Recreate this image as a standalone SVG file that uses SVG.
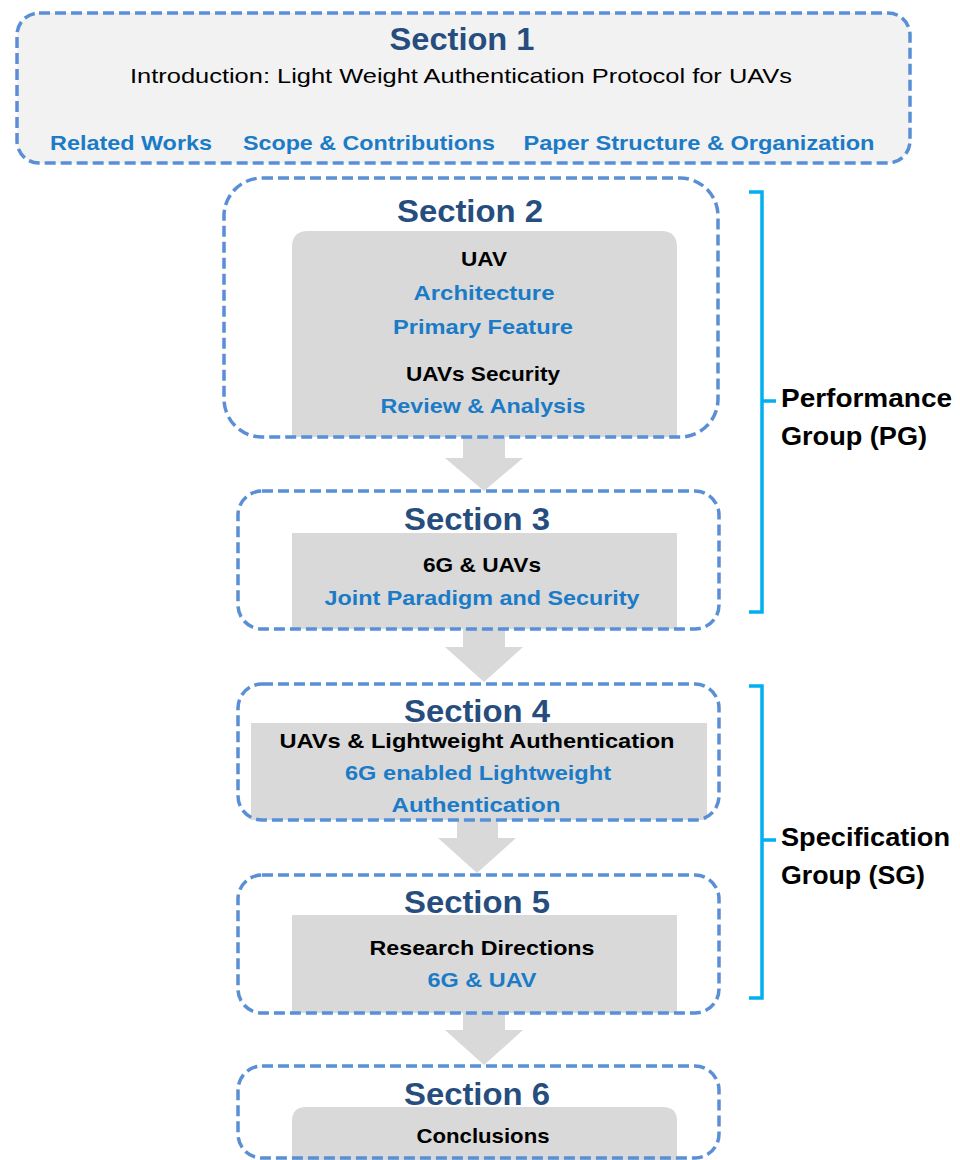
<svg xmlns="http://www.w3.org/2000/svg" width="960" height="1160" viewBox="0 0 960 1160">
<style>
.frame{fill:none;stroke:#5a8fd5;stroke-width:3.5;stroke-dasharray:11 5}
.inner{fill:#d9d9d9}
.arrow{fill:#d9d9d9}
.title{font-family:"Liberation Sans",Arial,sans-serif;font-weight:bold;font-size:31px;fill:#264d7e;text-anchor:middle}
.blk{font-family:"Liberation Sans",Arial,sans-serif;font-weight:bold;font-size:21px;fill:#000;text-anchor:middle}
.blu{font-family:"Liberation Sans",Arial,sans-serif;font-weight:bold;font-size:21px;fill:#1b7bc7;text-anchor:middle}
.reg{font-family:"Liberation Sans",Arial,sans-serif;font-size:21px;fill:#000;text-anchor:middle}
.brk{fill:none;stroke:#00b0f0;stroke-width:3.5}
.grp{font-family:"Liberation Sans",Arial,sans-serif;font-weight:bold;font-size:25px;fill:#000}
</style>
<rect width="960" height="1160" fill="#fff"/>
<g id="connectors">
<polygon class="arrow" points="463,436 505,436 505,458 523,458 484,491 445,458 463,458"/>
<polygon class="arrow" points="463,628 505,628 505,647 523,647 484,682 445,647 463,647"/>
<polygon class="arrow" points="457,819 498,819 498,838 516,838 477,873 438,838 457,838"/>
<polygon class="arrow" points="463,1012 505,1012 505,1030 523,1030 484,1065 445,1030 463,1030"/>
</g>
<g id="section1">
<rect x="17" y="13" width="893" height="150" rx="22" fill="#f2f2f2" stroke="#5a8fd5" stroke-width="3.5" stroke-dasharray="11 5"/>
<text class="title" x="462" y="50" textLength="145" lengthAdjust="spacingAndGlyphs">Section 1</text>
<text class="reg" x="461" y="83" textLength="662" lengthAdjust="spacingAndGlyphs">Introduction: Light Weight Authentication Protocol for UAVs</text>
<text class="blu" x="131" y="150" font-size="22" textLength="162" lengthAdjust="spacingAndGlyphs">Related Works</text>
<text class="blu" x="369" y="150" font-size="22" textLength="252" lengthAdjust="spacingAndGlyphs">Scope &amp; Contributions</text>
<text class="blu" x="699" y="150" font-size="22" textLength="351" lengthAdjust="spacingAndGlyphs">Paper Structure &amp; Organization</text>
</g>
<g id="section2">
<path class="inner" d="M292,437 V247 Q292,231 308,231 H661 Q677,231 677,247 V437 Z"/>
<rect class="frame" x="224" y="178" width="494" height="259" rx="38"/>
<text class="title" x="470" y="222" textLength="146" lengthAdjust="spacingAndGlyphs">Section 2</text>
<text class="blk" x="484" y="266" textLength="46" lengthAdjust="spacingAndGlyphs">UAV</text>
<text class="blu" x="484" y="300" textLength="141" lengthAdjust="spacingAndGlyphs">Architecture</text>
<text class="blu" x="483" y="334" textLength="180" lengthAdjust="spacingAndGlyphs">Primary Feature</text>
<text class="blk" x="483" y="381" textLength="154" lengthAdjust="spacingAndGlyphs">UAVs Security</text>
<text class="blu" x="483" y="413" textLength="205" lengthAdjust="spacingAndGlyphs">Review &amp; Analysis</text>
</g>
<g id="section3">
<rect class="inner" x="292" y="533" width="385" height="96"/>
<rect class="frame" x="238" y="491" width="481" height="138" rx="24"/>
<text class="title" x="477" y="530" textLength="146" lengthAdjust="spacingAndGlyphs">Section 3</text>
<text class="blk" x="482" y="572" textLength="118" lengthAdjust="spacingAndGlyphs">6G &amp; UAVs</text>
<text class="blu" x="482" y="605" textLength="315" lengthAdjust="spacingAndGlyphs">Joint Paradigm and Security</text>
</g>
<g id="section4">
<rect class="inner" x="251" y="723" width="456" height="97"/>
<rect class="frame" x="238" y="684" width="481" height="136" rx="24"/>
<text class="title" x="477" y="722" textLength="146" lengthAdjust="spacingAndGlyphs">Section 4</text>
<text class="blk" x="477" y="748" textLength="395" lengthAdjust="spacingAndGlyphs">UAVs &amp; Lightweight Authentication</text>
<text class="blu" x="478" y="780" textLength="266" lengthAdjust="spacingAndGlyphs">6G enabled Lightweight</text>
<text class="blu" x="476" y="812" textLength="169" lengthAdjust="spacingAndGlyphs">Authentication</text>
</g>
<g id="section5">
<rect class="inner" x="292" y="915" width="385" height="98"/>
<rect class="frame" x="238" y="875" width="481" height="138" rx="24"/>
<text class="title" x="477" y="913" textLength="146" lengthAdjust="spacingAndGlyphs">Section 5</text>
<text class="blk" x="482" y="955" textLength="225" lengthAdjust="spacingAndGlyphs">Research Directions</text>
<text class="blu" x="482" y="987" textLength="109" lengthAdjust="spacingAndGlyphs">6G &amp; UAV</text>
</g>
<g id="section6">
<path class="inner" d="M292,1160 V1121 Q292,1107 306,1107 H663 Q677,1107 677,1121 V1160 Z"/>
<rect class="frame" x="238" y="1066" width="481" height="92" rx="24"/>
<text class="title" x="477" y="1105" textLength="146" lengthAdjust="spacingAndGlyphs">Section 6</text>
<text class="blk" x="483" y="1143" textLength="133" lengthAdjust="spacingAndGlyphs">Conclusions</text>
</g>
<g id="performance-group">
<path class="brk" d="M749,192 H762 V612 H749 M762,401 H776"/>
<text class="grp" x="781" y="407" textLength="171" lengthAdjust="spacingAndGlyphs">Performance</text>
<text class="grp" x="781" y="445" textLength="146" lengthAdjust="spacingAndGlyphs">Group (PG)</text>
</g>
<g id="specification-group">
<path class="brk" d="M749,686 H762 V998 H749 M762,840 H776"/>
<text class="grp" x="781" y="846" textLength="169" lengthAdjust="spacingAndGlyphs">Specification</text>
<text class="grp" x="781" y="884" textLength="144" lengthAdjust="spacingAndGlyphs">Group (SG)</text>
</g>
</svg>
